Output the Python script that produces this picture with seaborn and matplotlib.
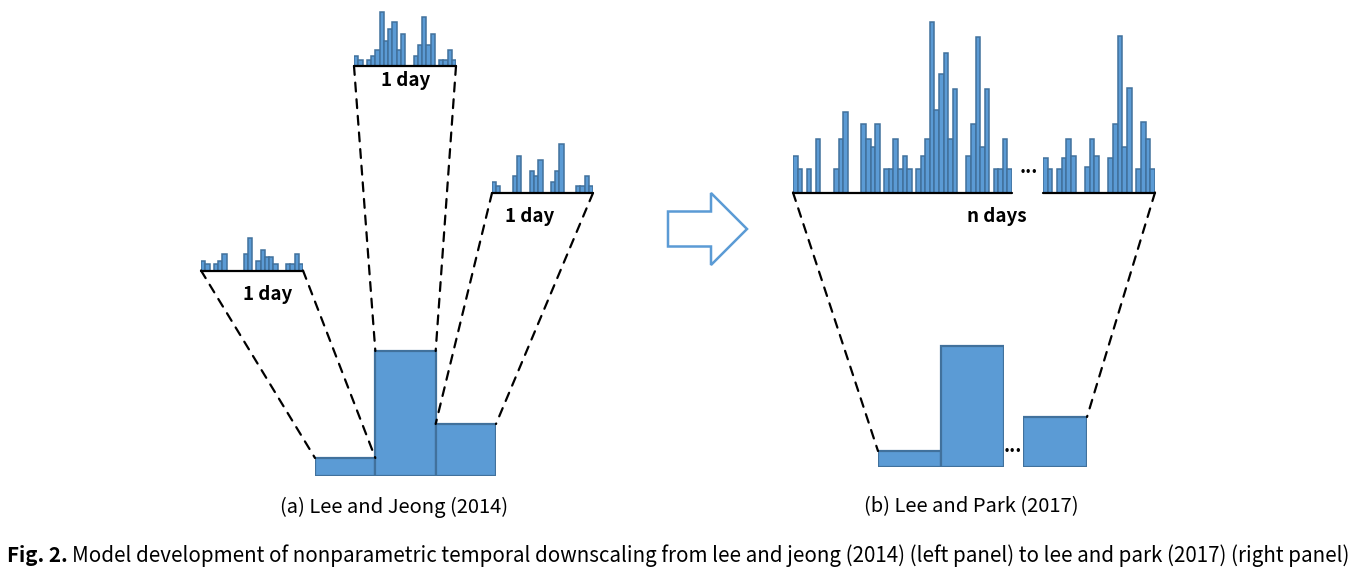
import matplotlib
matplotlib.use("Agg")
import matplotlib.pyplot as plt
import seaborn as sns
from matplotlib.patches import ConnectionPatch, FancyArrow

# hourly profiles (relative heights)
day_left = [10, 7, 0, 7, 10, 17, 0, 0, 0, 0, 17, 33, 0, 10, 21, 14, 14, 7, 0, 0, 7, 7, 17, 7]
day_mid = [10, 6, 0, 6, 10, 16, 54, 25, 37, 44, 16, 32, 0, 0, 10, 21, 49, 21, 32, 0, 6, 6, 16, 6]
day_right = [11, 7, 0, 0, 0, 17, 37, 0, 0, 22, 17, 33, 0, 0, 11, 22, 49, 0, 0, 0, 7, 7, 17, 7]
ndays_first = [37, 24, 0, 24, 0, 54, 0, 0, 0, 24, 54, 81, 0, 0, 0, 69, 54, 46, 69, 0,
               24, 24, 54, 24, 37, 24, 0, 24, 37, 54, 171, 83, 119, 140, 54, 104, 0, 0,
               37, 69, 156, 46, 104, 0, 24, 24, 54, 24]
ndays_last = [35, 24, 0, 24, 35, 54, 37, 0, 0, 26, 54, 37, 0, 0, 35, 69, 157, 46, 105, 0, 24, 71, 54, 24]

# daily totals
daily_a = [18, 125, 52]
daily_b_first = [16, 121]
daily_b_last = [50]

FILL = "#5B9BD5"
EDGE = "#41719C"
W, H = 1358, 573

sns.set_style("white")
plt.rcParams["font.family"] = ["Noto Sans CJK KR", "DejaVu Sans"]
plt.rcParams["text.color"] = "black"

fig = plt.figure(figsize=(W / 100, H / 100), dpi=100)

# overlay in pixel units for decorations
bg = fig.add_axes([0, 0, 1, 1])
bg.set_xlim(0, W)
bg.set_ylim(H, 0)
bg.axis("off")


def px_axes(x0, x1, base, height):
    return fig.add_axes([x0 / W, 1 - base / H, (x1 - x0) / W, height / H])


def hourly(vals, x0, x1, base, height):
    ax = px_axes(x0, x1, base, height)
    sns.barplot(x=list(range(len(vals))), y=vals, ax=ax, width=1,
                color=FILL, edgecolor=EDGE, linewidth=1.1, saturation=1)
    ax.set_ylim(0, height)
    ax.set_xlim(-0.5, len(vals) - 0.5)
    ax.axis("off")
    ax.axhline(0, color="black", lw=1.6, clip_on=False)
    return ax


def totals(vals, x0, x1, base, height):
    ax = px_axes(x0, x1, base, height)
    sns.barplot(x=list(range(len(vals))), y=vals, ax=ax, width=1,
                color=FILL, edgecolor=EDGE, linewidth=1.6, saturation=1)
    ax.set_ylim(0, height)
    ax.set_xlim(-0.5, len(vals) - 0.5)
    ax.axis("off")
    return ax


def dashed(ax_a, xa, ax_b, xb, yb):
    con = ConnectionPatch(xyA=(xa, 0), coordsA=ax_a.transData,
                          xyB=(xb, yb), coordsB=ax_b.transData,
                          color="black", lw=1.6, linestyle=(0, (4, 3.5)))
    fig.add_artist(con)


# panel (a)
h_left = hourly(day_left, 201, 303, 270.5, 60)
h_mid = hourly(day_mid, 354, 456, 66, 60)
h_right = hourly(day_right, 492, 593, 193, 60)
big_a = totals(daily_a, 315, 496, 476, 130)

dashed(h_left, -0.5, big_a, -0.5, daily_a[0])
dashed(h_left, 23.5, big_a, 0.5, daily_a[0])
dashed(h_mid, -0.5, big_a, 0.5, daily_a[1])
dashed(h_mid, 23.5, big_a, 1.5, daily_a[1])
dashed(h_right, -0.5, big_a, 1.5, daily_a[2])
dashed(h_right, 23.5, big_a, 2.5, daily_a[2])

# panel (b)
n_first = hourly(ndays_first, 793, 1012, 192.5, 180)
n_last = hourly(ndays_last, 1043, 1155, 192.5, 180)
big_b1 = totals(daily_b_first, 878, 1004, 467, 130)
big_b2 = totals(daily_b_last, 1023, 1087, 467, 130)

dashed(n_first, -0.5, big_b1, -0.5, daily_b_first[0])
dashed(n_last, len(ndays_last) - 0.5, big_b2, 0.5, daily_b_last[0])

# ellipses
for x, y in [(1029, 172), (1013, 451)]:
    bg.text(x, y, "•••", fontsize=7, fontweight="bold", ha="center", va="center",
            family="DejaVu Sans")

# arrow between panels
bg.add_patch(FancyArrow(668, 229, 79, 0, width=35, head_width=72, head_length=36,
                        length_includes_head=True, facecolor="white",
                        edgecolor="#5B9BD5", lw=1.8))

# labels
for x, y, s in [(268, 295, "1 day"), (406, 80, "1 day"), (530, 216, "1 day"), (997, 216, "n days")]:
    bg.text(x, y, s, fontsize=13.5, fontweight="bold", ha="center", va="center")

bg.text(394, 507, "(a) Lee and Jeong (2014)", fontsize=14.5, ha="center", va="center")
bg.text(971, 507, "(b) Lee and Park (2017)", fontsize=14.5, ha="center", va="center")

fig_lbl = bg.text(7, 556, "Fig. 2.", fontsize=14.8, fontweight="bold", ha="left", va="center")
fig.canvas.draw()
bb = fig_lbl.get_window_extent()
x_next = bg.transData.inverted().transform((bb.x1, bb.y0))[0] + 4
bg.text(x_next, 556,
        "Model development of nonparametric temporal downscaling from lee and jeong (2014) "
        "(left panel) to lee and park (2017) (right panel)",
        fontsize=14.8, ha="left", va="center")

fig.savefig("out.png", dpi=100)
